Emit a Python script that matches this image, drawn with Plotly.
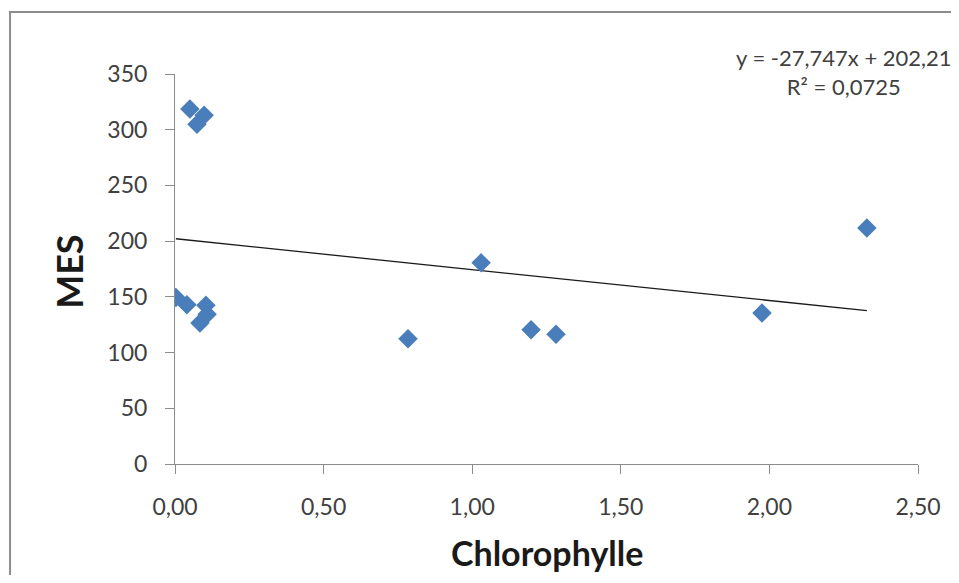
import plotly.graph_objects as go

chlorophylle = [0.05, 0.098, 0.074, 0.003, 0.04, 0.104, 0.108, 0.084, 0.784, 1.03, 1.198, 1.282, 1.975, 2.328]
mes = [318.5, 313.0, 305.0, 149.5, 143.0, 142.5, 134.5, 126.5, 112.5, 180.5, 120.5, 116.5, 135.5, 211.8]

slope = -27.747
intercept = 202.21
r2_text = "0,0725"

x_ticks = [0, 0.5, 1.0, 1.5, 2.0, 2.5]
y_ticks = [0, 50, 100, 150, 200, 250, 300, 350]

FONT = "Lato"

x_line = [min(chlorophylle), max(chlorophylle)]
y_line = [slope * v + intercept for v in x_line]

fig = go.Figure()
fig.add_trace(go.Scatter(x=x_line, y=y_line, mode="lines",
                         line=dict(color="#1a1a1a", width=1.3), showlegend=False, hoverinfo="skip"))
fig.add_trace(go.Scatter(x=chlorophylle, y=mes, mode="markers",
                         marker=dict(symbol="diamond", size=15, color="#4a7ebb"),
                         showlegend=False))

fig.update_layout(
    width=943, height=567,
    margin=dict(l=167, r=33, t=66, b=111),
    paper_bgcolor="white", plot_bgcolor="white",
    separators=", ",
    font=dict(family=FONT, color="#404040", size=23),
    xaxis=dict(range=[0, 2.5], tickvals=x_ticks, tickformat=".2f", automargin=False,
               showgrid=False, zeroline=False, showline=True, linecolor="#8c8c8c", linewidth=1,
               ticks="outside", ticklen=9, tickcolor="#8c8c8c", ticklabelstandoff=13),
    yaxis=dict(range=[0, 350], tickvals=y_ticks, automargin=False,
               showgrid=False, zeroline=False, showline=True, linecolor="#8c8c8c", linewidth=1,
               ticks="outside", ticklen=9, tickcolor="#8c8c8c", ticklabelstandoff=13),
)

# axis titles
fig.add_annotation(xref="paper", yref="paper", x=0.5, y=-0.2846, xanchor="center", yanchor="bottom",
                   text="<b>Chlorophylle</b>", showarrow=False,
                   font=dict(size=34, color="#1a1a1a", family=FONT))
fig.add_annotation(xref="paper", yref="paper", x=-0.143, y=0.492, xanchor="center", yanchor="middle",
                   text="<b>MES</b>", showarrow=False, textangle=-90,
                   font=dict(size=36, color="#1a1a1a", family=FONT))

fig.add_annotation(xref="paper", yref="paper", x=0.9005, y=1.082, xanchor="center", yanchor="top",
                   text="y = -27,747x + 202,21<br>R² = " + r2_text, showarrow=False, align="center",
                   font=dict(size=22, color="#404040", family=FONT))

fig.add_shape(type="rect", xref="paper", yref="paper", x0=-0.222, y0=-0.4, x1=1.2, y1=1.159,
              line=dict(color="#8c8c8c", width=2), layer="below")

fig.write_html("out.html")
